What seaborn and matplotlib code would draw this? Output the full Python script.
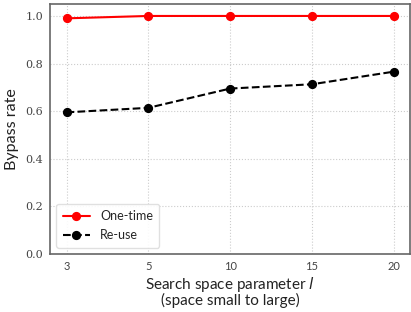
import matplotlib
matplotlib.use("Agg")
import matplotlib.pyplot as plt
import seaborn as sns
import pandas as pd

categories = ["3", "5", "10", "15", "20"]
one_time = [0.99, 1.0, 1.0, 1.0, 1.0]
re_use = [0.595, 0.614, 0.695, 0.713, 0.766]

df = pd.DataFrame({
    "l": categories * 2,
    "rate": one_time + re_use,
    "series": ["One-time"] * 5 + ["Re-use"] * 5,
})

sns.set_theme(style="whitegrid")
plt.rcParams["font.family"] = ["Lato", "DejaVu Sans"]

fig = plt.figure(figsize=(4.11, 3.12), dpi=100)
ax = fig.add_axes([0.122, 0.186, 0.876, 0.801])

sns.pointplot(data=df, x="l", y="rate", hue="series", order=categories,
              palette={"One-time": "red", "Re-use": "black"},
              markers=["o", "o"], linestyles=["-", "--"], ax=ax,
              markersize=5.5, linewidth=1.5)

ax.set_ylim(0, 1.05)
ax.set_xlim(-0.2, 4.2)
ax.set_yticks([0.0, 0.2, 0.4, 0.6, 0.8, 1.0])
ax.set_yticklabels(["0.0", "0.2", "0.4", "0.6", "0.8", "1.0"],
                   family="DejaVu Serif", fontsize=8, color="#444444")
ax.tick_params(axis="x", labelsize=8, colors="#444444", pad=5, length=0)
ax.tick_params(axis="y", pad=5, length=0)
ax.grid(True, linestyle=":", color="#cccccc", linewidth=0.8)
for s in ax.spines.values():
    s.set_visible(True)
    s.set_color("#666666")
    s.set_linewidth(1.2)

ax.set_ylabel("Bypass rate", fontsize=11.5, color="#222222", labelpad=5)
ax.set_xlabel("Search space parameter $l$\n(space small to large)",
              fontsize=11, color="#222222", linespacing=0.9, labelpad=2)

leg = ax.legend(loc="lower left", fontsize=9, frameon=True, fancybox=True,
                handlelength=2.2, borderpad=0.5, labelspacing=0.6)
leg.get_frame().set_edgecolor("#dddddd")
leg.get_frame().set_alpha(0.9)
leg.set_title(None)

fig.savefig("out.png", dpi=100)
